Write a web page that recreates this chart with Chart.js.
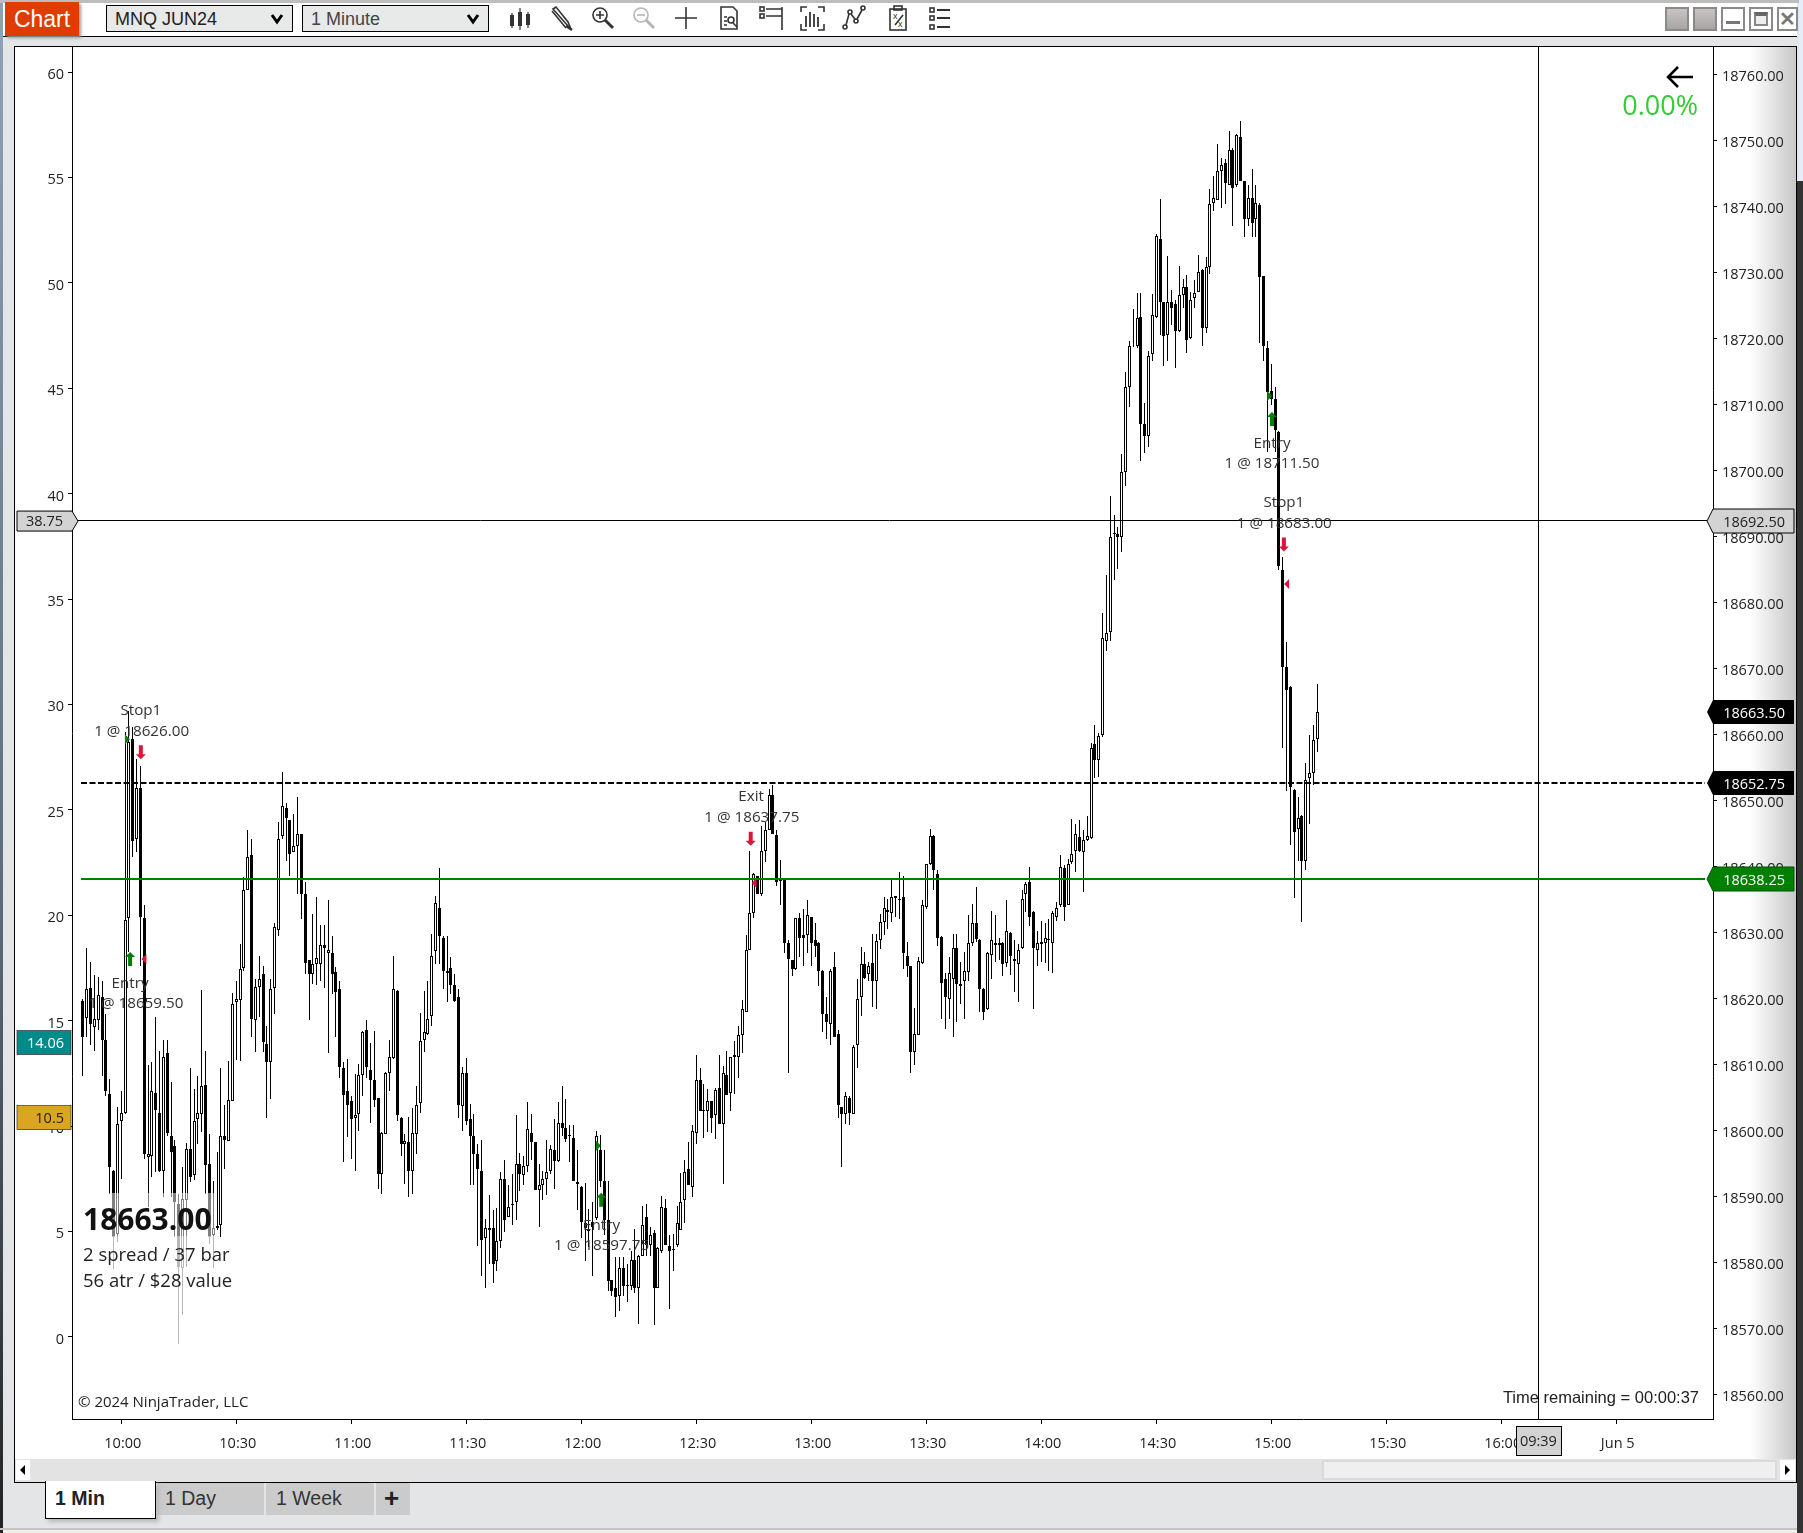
<!DOCTYPE html>
<html><head><meta charset="utf-8"><title>MNQ JUN24</title>
<script src="https://cdn.jsdelivr.net/npm/chart.js@4"></script>
<style>
html,body{margin:0;padding:0;background:#e4e5e7}
#page{position:relative;width:1803px;height:1533px;overflow:hidden;background:#e4e5e7;font-family:"Liberation Sans",Arial,sans-serif}
#page>div,#page>svg,#page>canvas{position:absolute}
.sel{top:5px;height:27px;background:#e8e9e9;border:1px solid #000;box-sizing:border-box;font-size:18px;line-height:27px;color:#222;padding-left:8px}
.sel svg{position:absolute;right:8px;top:7px}
.win{top:7px;width:24px;height:24px;box-sizing:border-box;border:2px solid #8a8a8a;background:#fff}
.g{background:linear-gradient(#c8c4c4,#a8a4a4)}
.tab{top:1483px;height:32px;background:#cbcbcb;font-size:19.5px;line-height:30px;color:#333;padding-left:8px;box-sizing:border-box}
</style></head><body>
<div id="page">
<div style="left:0;top:0;width:1803px;height:3px;background:#bdbdbd"></div>
<div style="left:0;top:3px;width:3px;height:1530px;background:linear-gradient(#8fa3b5,#5a6a78 60%,#222)"></div>
<div style="left:1799px;top:0;width:4px;height:181px;background:#e3eefb"></div>
<div style="left:1797px;top:181px;width:6px;height:1352px;background:#333"></div>
<div style="left:3px;top:3px;width:1794px;height:33px;background:#fff;border-bottom:1px solid #000"></div>
<div style="left:5px;top:2px;width:74px;height:34px;background:#e03c00;color:#fff;font-size:23px;line-height:34px;text-align:center;box-shadow:2px 2px 3px #999">Chart</div>
<div class="sel" style="left:106px;width:187px">MNQ JUN24<svg width="14" height="12" viewBox="0 0 14 12"><path d="M2 2 L7 9 L12 2" fill="none" stroke="#000" stroke-width="3"/></svg></div>
<div class="sel" style="left:302px;width:187px;color:#444">1 Minute<svg width="14" height="12" viewBox="0 0 14 12"><path d="M2 2 L7 9 L12 2" fill="none" stroke="#000" stroke-width="3"/></svg></div>
<svg style="left:508px;top:4px" width="445" height="28" viewBox="0 0 445 28" fill="none" stroke="#333" stroke-width="1.6">
<g stroke-width="1.2"><path d="M4 9V24M12 4V26M20 8V24"/></g><g fill="#333" stroke="none"><rect x="2" y="11" width="4" height="11"/><rect x="10" y="8" width="4" height="14"/><rect x="18" y="10" width="4" height="11"/></g>
<path d="M45 5 L60 22 L63 25 L60 18 L48 3 Z M44 7 L58 24" stroke-width="1.6"/><path d="M58 22 L64 26" stroke-width="2.5"/>
<circle cx="92" cy="11" r="7"/><path d="M88 11H96M92 7V15"/><path d="M97 16L105 24" stroke-width="3"/>
<g stroke="#b5b5b5"><circle cx="133" cy="11" r="7"/><path d="M129 11H137"/><path d="M138 16L146 24" stroke-width="3"/></g>
<path d="M178 3V25M167 14H189"/>
<g transform="translate(-4 0)"><path d="M217 3H229L233 7V25H217Z"/><path d="M220 13H223M220 17H223M220 21H223"/><circle cx="227" cy="16" r="3"/><path d="M229 19L233 23"/></g>
<rect x="252" y="3" width="4" height="4"/><rect x="252" y="10" width="4" height="4"/><path d="M258 5H274M258 12H274M274 3V26"/>
<path d="M293 8V3H299M310 3H316V8M293 20V26H299M310 26H316V20"/><path d="M298 12V23M302 8V23M306 10V23M310 13V23" stroke-width="1.8"/>
<circle cx="337" cy="23" r="2"/><circle cx="342" cy="8" r="2"/><circle cx="348" cy="17" r="2"/><circle cx="355" cy="4" r="2"/><path d="M338 21L341 10M343 10L347 15M349 15L354 6"/>
<g transform="translate(4 0)"><rect x="378" y="5" width="16" height="21"/><rect x="382" y="2" width="8" height="4"/><text x="381" y="15" font-size="9" fill="#333" stroke="none">x</text><text x="386" y="23" font-size="9" fill="#333" stroke="none">x</text><path d="M383 21L391 11"/></g>
<g transform="translate(-2 0)"><rect x="424" y="4" width="4" height="4"/><rect x="424" y="12" width="4" height="4"/><rect x="424" y="21" width="4" height="4"/><path d="M431 6H444M431 14H444M431 23H444" stroke-width="2"/></g>
</svg>
<div class="win g" style="left:1665px"></div>
<div class="win g" style="left:1693px"></div>
<div class="win" style="left:1721px"><div style="position:absolute;left:3px;right:3px;bottom:5px;height:3px;background:#777"></div></div>
<div class="win" style="left:1749px"><div style="position:absolute;left:3px;right:3px;top:3px;bottom:3px;border:2px solid #888;border-top:4px solid #666;box-sizing:border-box;background:#eee"></div></div>
<div class="win" style="left:1777px;width:21px;font:bold 20px/20px 'Liberation Sans';color:#777;text-align:center">✕</div>
<div style="left:14px;top:46px;width:1783px;height:1437px;box-sizing:border-box;border:1px solid #000;background:linear-gradient(to right,#fff 1735px,#c8c8c8 1781px)"></div>
<div style="left:15px;top:1459px;width:1781px;height:23px;background:#e3e3e3"></div>
<div style="left:1322px;top:1460px;width:455px;height:20px;background:#efefef;border:2px solid #dadada;box-sizing:border-box"></div>
<div style="left:16px;top:1460px;width:14px;height:20px;background:#fff"><svg width="14" height="20"><path d="M9 5V15L4 10Z" fill="#000"/></svg></div>
<div style="left:1780px;top:1460px;width:15px;height:20px;background:#fff"><svg width="15" height="20"><path d="M5 5V15L10 10Z" fill="#000"/></svg></div>
<div class="tab" style="left:157px;width:107px">1 Day</div>
<div class="tab" style="left:266px;width:108px;padding-left:10px">1 Week</div>
<div class="tab" style="left:376px;width:34px;font-weight:bold;font-size:26px;color:#222;padding-left:8px">+</div>
<div style="left:45px;top:1481px;width:111px;height:38px;box-sizing:border-box;background:#fff;border:1px solid #000;border-top:none;font-weight:bold;font-size:19.5px;line-height:34px;color:#222;padding-left:9px;box-shadow:3px 3px 4px #bbb">1 Min</div>
<div style="left:0;top:1528px;width:1797px;height:2px;background:#c4c4c4"></div>
<div style="left:3px;top:1530px;width:1794px;height:3px;background:#f1efe9"></div>
<canvas id="chart" width="1803" height="1533" style="left:0;top:0;width:1803px;height:1533px"></canvas>
</div>
<script>
const minuteStart = 590;
const candleOpen = [
18619.6,18617.1,18621.6,18615.7,18616.8,18620.3,18613.7,18605.5,18593.9,18584.3,
18601.4,18602.6,18632.2,18659.3,18644.1,18651.9,18632.2,18596.0,18596.2,18605.7,
18602.7,18593.8,18611.8,18599.2,18597.6,18588.8,18579.2,18589.5,18597.2,18593.2,
18601.8,18602.5,18606.9,18594.9,18584.1,18585.3,18585.7,18599.1,18598.4,18604.5,
18619.4,18619.7,18624.6,18636.5,18641.7,18616.8,18621.8,18623.7,18613.1,18610.4,
18621.6,18630.4,18644.6,18648.9,18647.0,18642.2,18643.1,18644.9,18635.9,18625.8,
18623.7,18625.2,18625.2,18628.1,18626.9,18626.9,18624.0,18621.5,18609.5,18606.0,
18604.4,18601.9,18602.5,18608.4,18615.2,18609.2,18607.6,18604.9,18593.4,18599.5,
18608.7,18611.0,18621.2,18601.9,18598.0,18598.2,18593.9,18599.5,18604.2,18613.7,
18614.6,18617.4,18627.2,18633.7,18629.2,18623.8,18624.6,18622.0,18620.2,18603.7,
18608.7,18601.8,18599.2,18596.5,18593.8,18583.7,18584.9,18585.3,18580.2,18583.2,
18592.7,18586.9,18588.7,18589.1,18594.9,18593.3,18594.6,18599.6,18598.3,18591.0,
18591.8,18592.7,18593.8,18597.0,18595.4,18601.2,18600.4,18599.3,18598.9,18592.2,
18591.5,18586.0,18584.8,18586.1,18586.8,18597.0,18592.3,18586.5,18577.3,18576.2,
18574.9,18579.2,18576.6,18576.4,18580.4,18576.2,18581.0,18586.9,18582.6,18584.5,
18576.2,18581.7,18588.3,18582.5,18582.1,18582.6,18585.0,18589.5,18594.2,18591.4,
18599.6,18607.7,18603.1,18602.9,18604.4,18602.3,18606.5,18601.0,18608.4,18605.7,
18611.1,18611.1,18614.5,18618.0,18627.3,18633.0,18638.5,18635.8,18642.3,18645.5,
18650.8,18644.7,18638.1,18637.9,18628.4,18625.8,18624.4,18632.2,18629.6,18629.6,
18632.3,18628.8,18628.4,18624.2,18617.7,18616.2,18624.7,18614.6,18603.5,18602.5,
18605.0,18602.5,18612.9,18620.2,18625.3,18623.7,18625.4,18622.7,18628.9,18631.6,
18633.4,18632.9,18635.3,18635.1,18635.4,18626.5,18624.9,18611.9,18614.5,18625.4,
18633.8,18640.4,18644.6,18638.9,18629.3,18623.0,18620.0,18623.0,18627.7,18622.2,
18622.6,18624.0,18628.4,18631.5,18628.9,18621.5,18618.4,18626.6,18628.4,18628.1,
18628.4,18625.4,18629.9,18626.0,18625.3,18627.6,18635.9,18637.7,18633.1,18627.4,
18628.3,18628.4,18628.8,18628.4,18632.3,18634.1,18639.7,18634.2,18640.7,18642.3,
18644.5,18642.2,18644.0,18644.3,18658.6,18656.1,18660.0,18674.2,18675.6,18690.6,
18690.4,18689.9,18699.7,18712.6,18718.8,18718.9,18723.3,18707.0,18705.2,18717.7,
18723.2,18735.1,18725.5,18720.6,18725.5,18725.2,18721.1,18726.6,18727.8,18720.1,
18726.2,18727.0,18730.4,18721.6,18730.8,18740.6,18741.0,18745.4,18746.6,18743.3,
18748.6,18743.3,18750.6,18743.8,18738.1,18741.3,18738.1,18740.2,18729.4,18718.6,
18712.0,18710.9,18705.9,18685.0,18670.3,18667.2,18651.6,18645.7,18647.7,18640.9,
18653.4,18654.1,18659.3];
const candleHigh = [
18620.0,18627.6,18625.6,18623.5,18623.3,18622.7,18617.7,18607.8,18594.0,18603.6,
18606.0,18660.4,18663.6,18661.1,18656.3,18655.3,18634.1,18610.0,18610.4,18617.2,
18612.1,18613.7,18613.7,18607.3,18598.6,18590.4,18594.4,18598.1,18609.5,18606.3,
18608.3,18621.3,18612.1,18599.4,18592.4,18596.7,18609.5,18603.8,18610.6,18620.8,
18622.7,18628.3,18638.4,18645.6,18644.2,18623.0,18626.5,18625.0,18615.9,18623.0,
18631.4,18646.8,18654.3,18649.6,18647.0,18648.0,18650.6,18644.9,18637.6,18625.8,
18632.8,18635.4,18631.1,18631.1,18634.9,18629.5,18624.8,18622.7,18610.4,18610.9,
18605.3,18608.5,18610.1,18615.1,18616.8,18613.3,18615.1,18605.0,18599.7,18608.8,
18613.7,18626.5,18621.3,18602.0,18599.5,18602.1,18603.4,18606.8,18617.8,18621.2,
18622.7,18629.8,18635.6,18639.8,18629.4,18629.4,18626.3,18623.7,18621.5,18609.6,
18611.0,18604.0,18602.5,18597.9,18598.6,18586.6,18590.3,18587.9,18588.3,18593.7,
18595.6,18591.8,18593.4,18602.4,18596.6,18596.2,18604.3,18602.5,18598.3,18595.0,
18593.9,18598.5,18597.8,18601.8,18604.3,18606.7,18604.8,18600.8,18600.8,18597.0,
18591.6,18592.1,18588.1,18589.1,18599.9,18599.3,18597.0,18592.3,18577.4,18580.9,
18580.8,18580.8,18579.7,18581.7,18585.1,18581.1,18588.6,18588.9,18585.4,18584.9,
18582.3,18590.1,18589.6,18584.1,18584.3,18588.6,18593.6,18595.6,18598.2,18600.9,
18611.4,18609.4,18607.0,18606.3,18604.5,18606.4,18611.4,18609.8,18612.0,18611.2,
18613.6,18615.9,18619.7,18629.6,18642.3,18639.0,18638.6,18646.2,18646.7,18651.8,
18652.3,18645.6,18641.0,18638.0,18628.8,18625.9,18632.2,18632.9,18633.6,18634.9,
18632.4,18631.4,18628.5,18624.3,18620.2,18624.4,18627.0,18615.2,18603.6,18605.8,
18605.3,18612.9,18623.0,18627.8,18627.0,18625.5,18629.8,18629.8,18632.8,18635.4,
18635.1,18638.3,18635.5,18639.1,18638.6,18628.5,18625.0,18618.6,18626.3,18635.0,
18640.4,18645.7,18644.7,18639.5,18629.5,18623.8,18626.3,18629.8,18629.8,18625.5,
18627.0,18632.6,18634.3,18636.9,18629.0,18621.6,18627.0,18633.3,18632.6,18629.1,
18628.5,18634.9,18630.1,18628.8,18628.3,18636.4,18637.6,18640.0,18633.2,18630.3,
18631.8,18631.4,18632.0,18633.3,18634.6,18641.8,18640.2,18641.2,18647.2,18646.4,
18647.1,18645.5,18647.6,18658.7,18661.4,18660.3,18678.4,18684.1,18696.2,18693.3,
18691.4,18702.5,18714.9,18719.7,18724.5,18726.9,18726.9,18710.2,18718.1,18726.8,
18735.8,18741.2,18725.6,18732.5,18727.3,18725.8,18731.0,18729.0,18729.7,18727.0,
18728.9,18732.7,18730.5,18732.4,18742.7,18744.7,18749.5,18747.3,18747.2,18751.5,
18748.9,18751.0,18753.0,18743.9,18743.2,18745.7,18743.2,18740.5,18729.5,18719.7,
18716.2,18712.6,18706.0,18686.9,18674.0,18667.3,18651.7,18650.5,18647.8,18655.7,
18660.0,18661.4,18667.7];
const candleLow = [
18608.3,18614.1,18612.9,18612.1,18615.2,18608.3,18605.2,18590.4,18579.0,18583.1,
18592.7,18602.5,18627.0,18641.4,18642.2,18625.0,18595.7,18588.4,18592.9,18593.7,
18593.7,18589.9,18599.2,18589.9,18583.8,18567.7,18572.0,18579.3,18592.2,18592.5,
18598.0,18599.7,18590.4,18582.8,18579.2,18585.0,18583.9,18594.2,18598.4,18604.5,
18610.7,18610.6,18624.2,18636.5,18614.1,18611.9,18617.2,18611.9,18601.9,18604.8,
18617.7,18629.5,18644.2,18640.8,18638.6,18642.2,18635.9,18632.0,18623.7,18616.8,
18622.2,18622.0,18622.7,18621.6,18611.7,18620.7,18614.1,18607.9,18595.2,18599.0,
18595.7,18593.8,18600.0,18605.3,18608.0,18601.1,18603.6,18591.2,18590.4,18599.5,
18606.0,18610.8,18601.4,18596.1,18591.9,18589.9,18590.4,18596.5,18602.7,18611.9,
18614.4,18615.9,18625.2,18625.2,18621.5,18619.4,18620.7,18619.4,18601.9,18599.9,
18600.9,18591.8,18591.7,18582.5,18577.9,18576.2,18579.8,18576.9,18578.7,18582.2,
18584.6,18586.9,18585.7,18586.4,18590.9,18591.8,18593.7,18595.5,18591.0,18585.4,
18589.4,18590.2,18593.4,18591.2,18595.2,18599.2,18598.2,18595.2,18592.4,18587.9,
18583.7,18580.3,18582.3,18577.9,18586.4,18591.4,18584.1,18575.7,18574.9,18571.7,
18572.6,18575.0,18574.0,18575.8,18575.4,18570.7,18581.0,18581.0,18581.0,18570.6,
18576.1,18581.5,18582.6,18572.9,18578.7,18582.4,18585.0,18586.0,18591.8,18589.9,
18597.9,18603.0,18598.8,18599.8,18599.6,18598.7,18601.0,18591.9,18605.4,18602.9,
18605.6,18607.9,18611.8,18618.0,18627.3,18632.2,18635.9,18635.6,18640.7,18645.5,
18645.0,18637.1,18634.1,18626.9,18608.7,18623.4,18624.3,18626.3,18624.9,18626.9,
18625.0,18626.3,18621.9,18614.9,18613.9,18613.0,18614.1,18601.9,18594.5,18601.0,
18600.8,18602.5,18609.4,18617.3,18623.0,18622.7,18618.7,18618.4,18627.5,18629.6,
18630.6,18631.6,18632.3,18632.1,18624.5,18623.2,18608.7,18609.9,18614.4,18625.3,
18633.6,18640.2,18636.4,18627.9,18616.9,18615.4,18616.9,18614.1,18616.4,18619.2,
18616.9,18622.6,18628.0,18628.5,18618.0,18616.8,18618.3,18623.0,18625.5,18625.8,
18623.4,18624.7,18623.5,18621.0,18619.4,18627.5,18633.1,18631.0,18618.4,18624.9,
18625.5,18625.4,18624.1,18623.8,18631.8,18633.8,18631.8,18634.1,18640.4,18639.1,
18642.2,18636.1,18643.9,18644.2,18653.4,18653.5,18659.6,18672.6,18674.1,18683.4,
18685.1,18687.6,18697.7,18709.6,18718.7,18718.6,18701.5,18702.6,18703.5,18716.6,
18723.1,18720.5,18715.8,18716.6,18722.0,18715.5,18721.0,18724.7,18717.8,18720.0,
18724.7,18727.0,18718.8,18720.8,18729.8,18739.3,18741.0,18739.8,18740.4,18743.2,
18737.0,18743.0,18743.8,18735.4,18737.1,18735.4,18735.4,18719.3,18716.6,18702.8,
18709.9,18702.8,18684.9,18658.0,18651.5,18643.2,18635.3,18640.9,18631.6,18639.4,
18646.4,18652.3,18657.3];
const candleClose = [
18614.2,18621.5,18616.1,18616.9,18620.5,18613.7,18606.0,18594.4,18583.9,18601.0,
18602.7,18631.9,18658.8,18643.8,18651.9,18632.3,18596.5,18596.5,18606.0,18603.1,
18593.9,18611.2,18599.6,18596.7,18589.1,18579.3,18589.6,18597.2,18592.9,18601.4,
18602.6,18606.8,18594.7,18583.9,18585.2,18585.6,18599.2,18598.5,18604.6,18619.2,
18620.0,18624.5,18636.5,18641.5,18616.9,18621.7,18623.0,18613.4,18610.4,18621.5,
18630.8,18644.2,18649.2,18647.3,18641.9,18643.1,18644.9,18635.9,18625.4,18623.7,
18625.2,18626.2,18628.1,18627.6,18627.3,18623.7,18621.0,18609.6,18605.4,18603.9,
18601.8,18602.3,18608.4,18615.0,18609.6,18607.6,18604.6,18593.4,18599.6,18608.7,
18611.1,18621.5,18602.3,18598.0,18598.4,18593.8,18599.6,18603.9,18613.5,18614.9,
18616.9,18626.5,18634.5,18629.5,18624.1,18624.2,18622.0,18619.6,18603.8,18608.7,
18601.4,18599.1,18596.4,18594.1,18583.4,18585.3,18585.3,18579.8,18583.3,18592.7,
18586.5,18588.4,18588.9,18594.9,18593.4,18594.6,18600.3,18598.2,18591.0,18591.8,
18592.7,18593.7,18597.2,18595.4,18601.2,18600.4,18598.7,18599.1,18592.4,18591.9,
18586.1,18585.2,18585.1,18585.4,18599.2,18592.4,18586.4,18577.2,18575.7,18574.8,
18579.2,18576.4,18576.4,18580.4,18576.2,18581.0,18585.7,18582.7,18584.2,18576.2,
18582.2,18588.4,18582.6,18581.8,18581.9,18586.0,18589.1,18593.7,18591.8,18599.9,
18607.7,18603.0,18602.9,18604.4,18601.9,18606.2,18601.0,18608.7,18605.4,18611.1,
18611.5,18614.5,18618.4,18627.4,18633.0,18638.9,18635.9,18642.3,18645.5,18650.8,
18645.0,18637.6,18637.8,18628.4,18626.0,18624.5,18632.2,18629.1,18629.1,18632.7,
18628.4,18628.0,18624.1,18617.7,18616.4,18624.2,18614.1,18603.9,18602.5,18605.3,
18602.6,18612.7,18620.0,18625.3,18623.1,18625.0,18622.7,18628.7,18631.6,18633.7,
18633.1,18635.4,18635.5,18634.9,18626.9,18624.9,18611.9,18614.6,18625.7,18634.2,
18640.4,18644.6,18639.5,18629.2,18622.3,18620.2,18623.8,18627.7,18622.2,18621.9,
18624.1,18628.4,18631.5,18629.0,18621.5,18618.0,18626.9,18628.9,18628.1,18628.4,
18625.3,18630.2,18626.4,18625.7,18627.4,18635.1,18637.4,18632.3,18627.6,18628.4,
18628.5,18629.2,18629.0,18633.0,18633.7,18639.9,18633.9,18640.4,18641.9,18645.0,
18642.3,18644.0,18644.6,18658.0,18656.1,18659.7,18674.6,18675.4,18690.0,18690.4,
18690.0,18699.7,18712.7,18718.8,18718.9,18723.1,18707.0,18705.3,18717.3,18723.6,
18735.5,18725.5,18720.4,18725.5,18724.7,18721.1,18726.6,18727.8,18719.8,18725.9,
18726.9,18730.1,18721.6,18730.8,18740.4,18741.3,18745.4,18746.3,18743.5,18748.6,
18742.8,18750.9,18743.8,18738.1,18741.3,18737.5,18740.6,18729.3,18718.8,18711.9,
18710.9,18706.2,18685.6,18670.3,18666.8,18652.0,18645.3,18647.3,18640.8,18653.1,
18654.1,18659.2,18663.4];
const xTickMinutes = [600,630,660,690,720,750,780,810,840,870,900,930,960,990];
const xTickLabels = ["10:00","10:30","11:00","11:30","12:00","12:30","13:00","13:30","14:00","14:30","15:00","15:30","16:00","Jun 5"];
const priceTicks = [18560,18570,18580,18590,18600,18610,18620,18630,18640,18650,18660,18670,18680,18690,18700,18710,18720,18730,18740,18750,18760];
const leftTicks = [0,5,10,15,20,25,30,35,40,45,50,55,60];
const crosshairMinute = 969.7, crosshairTimeLabel = "09:39";
const crosshairPrice = 18692.5, crosshairLeftValue = 38.75;
const lastPrice = 18663.5, stopLevel = 18652.75, targetLevel = 18638.25;
const tealValue = 14.06, goldValue = 10.5;
const arrowUpMarks = [[602.3,18626],[725.2,18589.5],[900.2,18707.8]];
const arrowDownMarks = [[605.1,18657.3],[764.2,18644.2],[903.3,18688.8]];
const triRightMarks = [[601.6,18659.3],[724.5,18597.7],[899.6,18711.3]];
const triLeftMarks = [[605.9,18626],[765.1,18637.5],[904,18682.8]];
const tradeLabels = [
 ["Stop1",605.1,18663.6],["1 @ 18626.00",605.3,18660.4],
 ["Entry",602.3,18622.3],["1 @ 18659.50",603.8,18619.2],
 ["Exit",764.3,18650.6],["1 @ 18637.75",764.5,18647.4],
 ["Entry",725.3,18585.6],["1 @ 18597.75",725.3,18582.5],
 ["Entry",900.2,18704.1],["1 @ 18711.50",900.2,18701],
 ["Stop1",903.3,18695.1],["1 @ 18683.00",903.4,18691.9]];

const minutes = candleOpen.map((_,i)=>minuteStart+i);
const wicks = minutes.map((m,i)=>({x:m,y:[candleLow[i],candleHigh[i]]}));
const ups = [], downs = [];
minutes.forEach((m,i)=>{(candleClose[i]>=candleOpen[i]?ups:downs).push({x:m,y:[candleOpen[i],candleClose[i]]});});

const FONT='"Open Sans"';
const snap={id:'snap',afterDatasetsUpdate(c){c.data.datasets.forEach((d,i)=>{c.getDatasetMeta(i).data.forEach(e=>{e.x=Math.floor(e.x)+.5;e.y=Math.round(e.y);e.base=Math.round(e.base);});});}};
const overlay={id:'overlay',afterDraw(c){
 const g=c.ctx,X=c.scales.x,Y=c.scales.y,L=c.scales.yl;
 const px=v=>X.getPixelForValue(v),py=v=>Y.getPixelForValue(v),pl=v=>L.getPixelForValue(v);
 const ca=c.chartArea;
 g.save();
 g.fillStyle='rgba(255,255,255,.5)';g.fillRect(80,1193,136,43);
 g.fillStyle='rgba(255,255,255,.72)';g.fillRect(80,1236,136,110);
 // crosshair
 g.strokeStyle='#000';g.lineWidth=1;g.beginPath();
 const cx=Math.round(px(crosshairMinute))+.5,cy=Math.round(py(crosshairPrice))+.5;
 g.moveTo(cx,ca.top);g.lineTo(cx,ca.bottom);g.moveTo(ca.left,cy);g.lineTo(ca.right-6,cy);g.stroke();
 // levels
 const ys=Math.round(py(stopLevel))+1,yt=Math.round(py(targetLevel))+1;
 g.lineWidth=2;g.setLineDash([6,2.5]);g.beginPath();g.moveTo(81,ys);g.lineTo(ca.right-8,ys);g.stroke();
 g.setLineDash([]);g.strokeStyle='#008000';g.beginPath();g.moveTo(81,yt);g.lineTo(ca.right-8,yt);g.stroke();
 // markers
 const red='#dc143c',grn='#008000';
 const arrow=(x,y,dir,col)=>{g.fillStyle=col;g.beginPath();g.moveTo(x-2,y-7*dir);g.lineTo(x+2,y-7*dir);g.lineTo(x+2,y+2*dir);g.lineTo(x+5,y+2*dir);g.lineTo(x,y+7*dir);g.lineTo(x-5,y+2*dir);g.lineTo(x-2,y+2*dir);g.closePath();g.fill();};
 const tri=(x,y,dir,col)=>{g.fillStyle=col;g.beginPath();g.moveTo(x+2.5*dir,y);g.lineTo(x-2.5*dir,y-5);g.lineTo(x-2.5*dir,y+5);g.closePath();g.fill();};
 arrowUpMarks.forEach(a=>arrow(px(a[0]),py(a[1]),-1,grn));
 arrowDownMarks.forEach(a=>arrow(px(a[0]),py(a[1]),1,red));
 triRightMarks.forEach(a=>tri(px(a[0]),py(a[1]),1,grn));
 triLeftMarks.forEach(a=>tri(px(a[0]),py(a[1]),-1,red));
 // trade labels
 g.font='15.2px '+FONT;g.fillStyle='#333';g.textAlign='center';g.textBaseline='middle';
 tradeLabels.forEach(t=>g.fillText(t[0],px(t[1]),py(t[2])));
 // info text
 g.textAlign='left';g.fillStyle='#111';g.font='bold 30px '+FONT;g.fillText('18663.00',83,1221);
 g.fillStyle='#222';g.font='18.5px '+FONT;g.fillText('2 spread / 37 bar',83,1256);g.fillText('56 atr / $28 value',83,1282);
 g.font='15px '+FONT;g.fillStyle='#222';g.fillText('© 2024 NinjaTrader, LLC',78,1403);
 g.textAlign='right';g.font='16.5px "Liberation Sans"';g.fillText('Time remaining = 00:00:37',1699,1398);
 // percent and arrow
 g.font='27px '+FONT;g.fillStyle='#32cd32';g.fillText('0.00%',1698,107);
 g.strokeStyle='#000';g.lineWidth=2.5;g.beginPath();g.moveTo(1693,77);g.lineTo(1668,77);g.moveTo(1678,67);g.lineTo(1668,77);g.lineTo(1678,87);g.stroke();
 // right flags
 const flag=(val,bg,fg,border)=>{const y=Math.round(py(val))+1;g.fillStyle=bg;g.beginPath();g.moveTo(1707,y);g.lineTo(1713,y-12);g.lineTo(1794,y-12);g.lineTo(1794,y+12);g.lineTo(1713,y+12);g.closePath();g.fill();
  if(border){g.strokeStyle=border;g.lineWidth=1;g.stroke();}
  g.fillStyle=fg;g.textAlign='right';g.font='14.5px '+FONT;g.fillText(val.toFixed(2),1785,y+1.5);};
 flag(crosshairPrice,'#d3d3d3','#222','#000');flag(lastPrice,'#000','#fff');flag(stopLevel,'#000','#fff');flag(targetLevel,'#008000','#fff','#005000');
 // left flags
 const lf=(val,txt,bg,fg)=>{const y=pl(val)+2;g.fillStyle=bg;g.fillRect(17,y-12,54,24);g.strokeStyle='#333';g.lineWidth=.7;g.strokeRect(17,y-12,54,24);g.fillStyle=fg;g.textAlign='right';g.font='14.5px '+FONT;g.fillText(txt,64,y+1);};
 const y38=pl(crosshairLeftValue)+1;g.fillStyle='#d3d3d3';g.strokeStyle='#000';g.lineWidth=1;g.beginPath();g.moveTo(17,y38-10);g.lineTo(72,y38-10);g.lineTo(78,y38);g.lineTo(72,y38+10);g.lineTo(17,y38+10);g.closePath();g.fill();g.stroke();
 g.fillStyle='#222';g.textAlign='right';g.font='14.5px '+FONT;g.fillText(crosshairLeftValue.toFixed(2),63,y38+1);
 lf(tealValue,tealValue.toFixed(2),'#008b8b','#fff');lf(goldValue,String(goldValue),'#daa520','#222');
 // time flag
 g.fillStyle='#d3d3d3';g.fillRect(1516.5,1426.5,45,29);g.strokeStyle='#000';g.lineWidth=1;g.strokeRect(1516.5,1426.5,45,29);
 g.fillStyle='#222';g.textAlign='center';g.font='14.5px '+FONT;g.fillText(crosshairTimeLabel,px(crosshairMinute),1442);
 g.restore();
}};
const axisTicks=arr=>s=>{s.ticks=arr.map(v=>({value:v}));};
// the reference prints tick labels slightly off their tick marks
const shiftLabels=(dx,dy)=>s=>{if(s._shifted)return;s._shifted=true;const orig=s.drawLabels;s.drawLabels=function(a){const g=this.ctx;g.save();g.translate(dx,dy);orig.call(this,a);g.restore();};};
new Chart(document.getElementById('chart'),{
 type:'bar',
 data:{datasets:[
  {data:ups,backgroundColor:'#fff',borderColor:'#000',borderWidth:1,barThickness:3,order:1},
  {data:downs,backgroundColor:'#000',borderColor:'#000',borderWidth:1,barThickness:3,order:2},
  {data:wicks,backgroundColor:'#000',borderWidth:0,barThickness:1,order:3}
 ]},
 plugins:[snap,overlay],
 options:{
  responsive:false,devicePixelRatio:1,animation:false,events:[],
  datasets:{bar:{grouped:false,borderSkipped:false,inflateAmount:0}},
  layout:{padding:{left:15,right:7,top:47,bottom:74}},
  plugins:{legend:{display:false},title:{display:false},tooltip:{enabled:false}},
  scales:{
   x:{type:'linear',offset:false,min:587.14,max:1015.25,position:'bottom',
    afterBuildTicks:axisTicks(xTickMinutes),afterFit:s=>{s.height=40;},afterUpdate:shiftLabels(1.5,2),
    grid:{display:true,offset:false,drawOnChartArea:false,drawTicks:true,tickLength:5,color:'#000'},
    border:{display:true,color:'#000',width:1},
    ticks:{autoSkip:false,maxRotation:0,minRotation:0,padding:9,color:'#222',font:{family:'Open Sans',size:14.5},
     callback:v=>xTickLabels[xTickMinutes.indexOf(v)]}},
   y:{type:'linear',position:'right',min:18556.29,max:18764.17,
    afterBuildTicks:axisTicks(priceTicks),afterFit:s=>{s.width=83;},afterUpdate:shiftLabels(0,2.7),
    grid:{display:true,drawOnChartArea:false,drawTicks:true,tickLength:4,color:'#000'},
    border:{display:true,color:'#000',width:1},
    ticks:{padding:5,color:'#222',font:{family:'Open Sans',size:14.5},callback:v=>v.toFixed(2)}},
   yl:{type:'linear',axis:'y',position:'left',min:-3.89,max:61.19,
    afterBuildTicks:axisTicks(leftTicks),afterFit:s=>{s.width=57;},afterUpdate:shiftLabels(0,2.7),
    grid:{display:true,drawOnChartArea:false,drawTicks:true,tickLength:4,color:'#000'},
    border:{display:true,color:'#000',width:1},
    ticks:{padding:4,color:'#222',font:{family:'Open Sans',size:14.5},callback:v=>String(v)}}
  }
 }
});
</script>
</body></html>
